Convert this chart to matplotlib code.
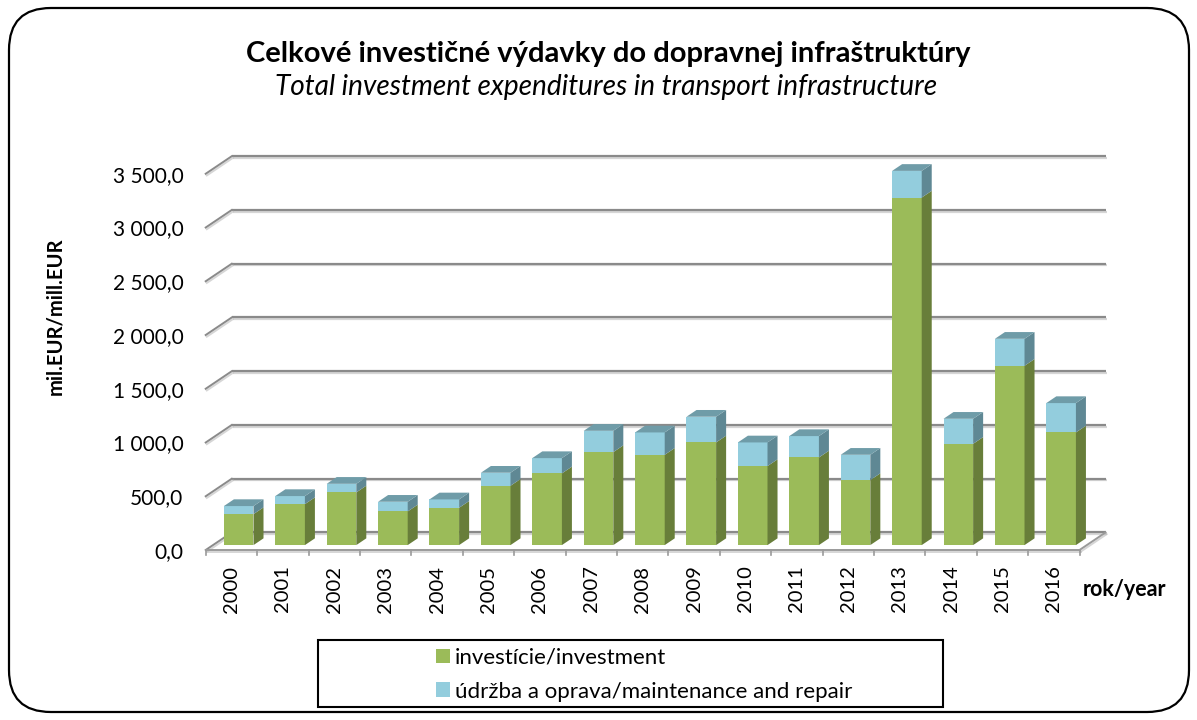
import numpy as np
import matplotlib
matplotlib.use("Agg")
import matplotlib.pyplot as plt
from matplotlib.patches import Polygon, FancyBboxPatch, Rectangle, Patch
import matplotlib.patheffects as pe

plt.rcParams['font.family'] = ['Lato', 'DejaVu Sans']

years = ['2000', '2001', '2002', '2003', '2004', '2005', '2006', '2007', '2008',
         '2009', '2010', '2011', '2012', '2013', '2014', '2015', '2016']
investment = [288, 381, 490, 313, 347, 552, 667, 865, 840,
              955, 735, 815, 605, 3233, 942, 1668, 1048]
total = [363, 456, 570, 403, 425, 673, 809, 1063, 1048,
         1194, 955, 1014, 840, 3481, 1175, 1919, 1321]
maintenance = [t - i for t, i in zip(total, investment)]
yticks = [0, 500, 1000, 1500, 2000, 2500, 3000, 3500]
ytick_labels = ['0,0', '500,0', '1 000,0', '1 500,0', '2 000,0', '2 500,0', '3 000,0', '3 500,0']
series_labels = ['investície/investment', 'údržba a oprava/maintenance and repair']

GREEN = '#9BBB59'
GREEN_SIDE = '#687E3A'
BLUE = '#93CDDD'
BLUE_SIDE = '#5F8894'
BLUE_TOP = '#6F9CA8'
GRID = '#8A8A8A'

W, H = 1197, 720
fig = plt.figure(figsize=(W / 100, H / 100), dpi=100)
ax = fig.add_axes([200 / W, 160 / H, 915 / W, 410 / H])
ax.set_xlim(-0.611, 17.19)
ax.set_ylim(-93, 3721)
for s in ax.spines.values():
    s.set_visible(False)

n = len(years)
DX, DY = 0.506, 163.0          # depth offset of back wall (data units)
d0 = 0.28                       # bar front depth fraction
dd = 0.385                      # bar depth fraction
bw = 0.576
sx, sy = d0 * DX, d0 * DY
ddx, ddy = dd * DX, dd * DY

shadow = [pe.SimpleLineShadow(offset=(0.8, -1.2), shadow_color='#bbbbbb', alpha=0.6), pe.Normal()]

# back wall gridlines and left diagonals
x0, x1 = -0.5, n - 0.5
for v in yticks:
    ax.plot([x0 + DX, x1 + DX], [v + DY, v + DY], color=GRID, lw=1.6, zorder=1,
            solid_capstyle='butt', path_effects=shadow)
    ax.plot([x0, x0 + DX], [v, v + DY], color=GRID, lw=1.4, zorder=1, path_effects=shadow)
# floor
ax.plot([x0, x1], [0, 0], color='#9a9a9a', lw=1.4, zorder=1, path_effects=shadow)
ax.plot([x1, x1 + DX], [0, DY], color='#9a9a9a', lw=1.4, zorder=1, path_effects=shadow)
# category tick marks
for k in range(n + 1):
    ax.plot([x0 + k, x0 + k], [0, -46], color='#9a9a9a', lw=1.2, zorder=1)

# bars
xs = np.arange(n) + sx
inv = np.array(investment, float)
mnt = np.array(maintenance, float)
ax.bar(xs, inv, width=bw, bottom=sy, color=GREEN, zorder=3, linewidth=0)
ax.bar(xs, mnt, width=bw, bottom=sy + inv, color=BLUE, zorder=3, linewidth=0)
for i in range(n):
    xl, xr = xs[i] - bw / 2, xs[i] + bw / 2
    b = sy
    g = inv[i]
    t = inv[i] + mnt[i]
    ax.add_patch(Polygon([(xr, b), (xr + ddx, b + ddy), (xr + ddx, b + ddy + g), (xr, b + g)],
                         closed=True, facecolor=GREEN_SIDE, edgecolor='none', zorder=3))
    ax.add_patch(Polygon([(xr, b + g), (xr + ddx, b + ddy + g), (xr + ddx, b + ddy + t), (xr, b + t)],
                         closed=True, facecolor=BLUE_SIDE, edgecolor='none', zorder=3))
    ax.add_patch(Polygon([(xl, b + t), (xr, b + t), (xr + ddx, b + t + ddy), (xl + ddx, b + t + ddy)],
                         closed=True, facecolor=BLUE_TOP, edgecolor='none', zorder=3))

ax.set_xticks(np.arange(n))
ax.set_xticklabels(years, rotation=90, fontsize=14.5)
ax.set_yticks(yticks)
ax.set_yticklabels(ytick_labels, fontsize=15)
ax.tick_params(axis='x', length=0, pad=4)
ax.tick_params(axis='y', length=0, pad=12)

fig.text(608 / W, 1 - 54 / H, 'Celkové investičné výdavky do dopravnej infraštruktúry',
         ha='center', va='center', fontsize=21, fontweight='bold')
fig.text(606 / W, 1 - 87 / H, 'Total investment expenditures in transport infrastructure',
         ha='center', va='center', fontsize=20.2, fontstyle='italic')
fig.text(1083 / W, 1 - 589 / H, 'rok/year', ha='left', va='center', fontsize=15.5, fontweight='bold')
fig.text(55 / W, 1 - 316 / H, 'mil.EUR/mill.EUR', ha='center', va='center', rotation=90,
         fontsize=14.5, fontweight='bold')

# legend box
fig.patches.append(Rectangle((318 / W, 1 - 707 / H), (943 - 318) / W, (707 - 640) / H,
                             transform=fig.transFigure, facecolor='white', edgecolor='black',
                             lw=1.5, zorder=5))
handles = [Patch(facecolor=GREEN, edgecolor='none'), Patch(facecolor=BLUE, edgecolor='none')]
leg = fig.legend(handles, series_labels, loc='upper left', bbox_to_anchor=(418 / W, 1 - 630 / H),
                 frameon=False, fontsize=16, handlelength=0.63, handleheight=0.63,
                 handletextpad=0.22, labelspacing=0.62, borderpad=0.3)
leg.set_zorder(6)

# outer rounded frame
fig.patches.append(FancyBboxPatch((9 / W, 8 / H), (1189 - 9) / W, (712 - 8) / H,
                                  boxstyle='round,pad=0,rounding_size=0.035',
                                  transform=fig.transFigure, facecolor='none',
                                  edgecolor='black', lw=1.6, zorder=10,
                                  mutation_aspect=W / H))

fig.savefig('out.png', dpi=100)
